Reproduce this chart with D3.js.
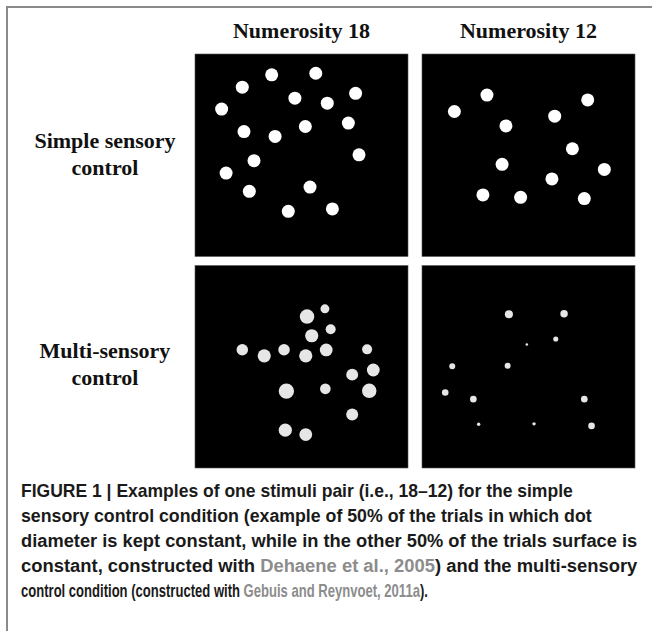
<!DOCTYPE html>
<html>
<head>
<meta charset="utf-8">
<script src="https://cdn.jsdelivr.net/npm/d3@7"></script>
<style>
  body { margin: 0; background: #fff; }
  svg { display: block; }
</style>
</head>
<body>
<script>
'use strict';
(function () {
  // column headings and row labels
  let columns = ["Numerosity 18", "Numerosity 12"];
  let rows = ["simple", "multi"];
  let rowLabels = [["Simple sensory", "control"], ["Multi-sensory", "control"]];

  // dots: [x, y, diameter] in stimulus units (0-100 of the square)
  let simple18 = [
    [36.0, 10.3, 6.1], [56.7, 9.5, 6.1], [22.2, 16.4, 6.1], [75.4, 19.4, 6.1],
    [46.9, 21.8, 6.1], [62.1, 24.3, 6.1], [12.5, 27.2, 6.1], [72.0, 34.1, 6.1],
    [51.8, 35.8, 6.1], [23.0, 38.3, 6.1], [37.6, 40.7, 6.1], [77.0, 49.8, 6.1],
    [27.7, 52.7, 6.1], [14.6, 58.8, 6.1], [54.0, 65.7, 6.1], [25.5, 67.8, 6.1],
    [43.8, 77.7, 6.1], [64.5, 76.5, 6.1]
  ];
  let simple12 = [
    [15.2, 28.4, 6.1], [30.5, 20.3, 6.1], [39.4, 35.5, 6.1], [62.3, 30.7, 6.1],
    [77.8, 22.7, 6.1], [70.6, 46.8, 6.1], [37.6, 54.5, 6.1], [85.6, 57.0, 6.1],
    [61.0, 61.7, 6.1], [28.6, 69.6, 6.1], [46.3, 70.8, 6.1], [76.2, 71.4, 6.1]
  ];
  let multi18 = [
    [61.0, 21.4, 4.2], [52.6, 25.2, 6.8], [63.7, 31.5, 4.7], [54.8, 34.7, 6.2],
    [22.2, 41.6, 5.4], [32.5, 44.6, 6.2], [41.8, 41.6, 5.4], [52.0, 44.6, 6.2],
    [61.6, 41.7, 6.0], [80.8, 41.4, 4.7], [83.7, 51.6, 6.0], [73.8, 53.9, 5.6],
    [42.9, 62.0, 7.2], [61.2, 60.9, 5.0], [81.8, 61.9, 6.8], [73.8, 73.6, 5.6],
    [42.4, 81.3, 6.2], [52.0, 83.5, 6.0]
  ];
  let multi12 = [
    [40.8, 24.1, 3.8], [66.7, 23.8, 3.5], [62.8, 36.3, 2.4], [49.2, 39.0, 1.2],
    [14.2, 49.7, 2.8], [40.2, 49.5, 2.8], [10.9, 62.7, 3.1], [24.1, 66.0, 3.1],
    [76.2, 66.0, 3.1], [26.6, 78.4, 1.6], [52.6, 78.2, 1.6], [79.6, 79.2, 3.1]
  ];

  // caption, split into lines; second item marks a citation link
  let captionLines = [
    [["FIGURE 1 | Examples of one stimuli pair (i.e., 18\u201312) for the simple", false]],
    [["sensory control condition (example of 50% of the trials in which dot", false]],
    [["diameter is kept constant, while in the other 50% of the trials surface is", false]],
    [["constant, constructed with ", false], ["Dehaene et al., 2005", true], [") and the multi-sensory", false]],
    [["control condition (constructed with ", false], ["Gebuis and Reynvoet, 2011a", true], [").", false]]
  ];

  let panels = [
    { row: "simple", col: "Numerosity 18", dots: simple18, fill: "#ffffff" },
    { row: "simple", col: "Numerosity 12", dots: simple12, fill: "#ffffff" },
    { row: "multi", col: "Numerosity 18", dots: multi18, fill: "#e6e6e6" },
    { row: "multi", col: "Numerosity 12", dots: multi12, fill: "#e6e6e6" }
  ];

  let width = 652;
  let height = 631;

  let svg = d3.select('body')
    .append('svg')
    .attr('width', width)
    .attr('height', height);

  // frame
  svg.append('path')
    .attr('d', 'M7,' + height + 'V7H' + width)
    .attr('fill', 'none')
    .attr('stroke', '#8a8a8a')
    .attr('stroke-width', 2);

  let xBand = d3.scaleBand()
    .domain(columns)
    .range([195, 635])
    .paddingInner(0.0617);
  let yBand = d3.scaleBand()
    .domain(rows)
    .range([54, 468])
    .paddingInner(0.0426);

  // column headings
  svg.selectAll('.colhead')
    .data(columns)
    .enter()
    .append('text')
    .attr('class', 'colhead')
    .attr('x', (d) => xBand(d) + xBand.bandwidth() / 2)
    .attr('y', 38)
    .attr('text-anchor', 'middle')
    .style('font-family', '"Liberation Serif", "Times New Roman", serif')
    .style('font-weight', 'bold')
    .style('font-size', '22px')
    .attr('fill', '#111')
    .text((d) => d);

  // row labels
  rows.forEach((r, i) => {
    let cy = yBand(r) + yBand.bandwidth() / 2;
    let t = svg.append('text')
      .attr('text-anchor', 'middle')
      .style('font-family', '"Liberation Serif", "Times New Roman", serif')
      .style('font-weight', 'bold')
      .style('font-size', '22px')
      .attr('fill', '#111');
    rowLabels[i].forEach((line, j) => {
      t.append('tspan')
        .attr('x', 105)
        .attr('y', cy - 7 - i * 2 + j * 27)
        .text(line);
    });
  });

  // panels with dots
  panels.forEach((p) => {
    let x0 = xBand(p.col);
    let y0 = yBand(p.row);
    let w = xBand.bandwidth();
    let h = yBand.bandwidth();
    let xScale = d3.scaleLinear().domain([0, 100]).range([x0, x0 + w]);
    let yScale = d3.scaleLinear().domain([0, 100]).range([y0, y0 + h]);
    let sizeScale = d3.scaleLinear().domain([0, 100]).range([0, w]);

    svg.append('rect')
      .attr('x', x0)
      .attr('y', y0)
      .attr('width', w)
      .attr('height', h)
      .attr('fill', '#000')
      .attr('stroke', '#555')
      .attr('stroke-width', 0.6);

    svg.append('g')
      .selectAll('circle')
      .data(p.dots)
      .enter()
      .append('circle')
      .attr('cx', (d) => xScale(d[0]))
      .attr('cy', (d) => yScale(d[1]))
      .attr('r', (d) => sizeScale(d[2]) / 2)
      .attr('fill', p.fill);
  });

  // caption, each line squeezed to the width it has in the figure
  let capX = 21;
  let capY = 497;
  let capStep = 25;
  let capWidths = [552, 571, 617, 617, 407];
  let capGroup = svg.append('g');
  captionLines.forEach((parts, i) => {
    let y = capY + i * capStep;
    let t = capGroup.append('text')
      .attr('transform', 'translate(' + capX + ',' + y + ')')
      .style('font-family', '"Liberation Sans", Arial, sans-serif')
      .style('font-weight', 'bold')
      .style('font-size', '19px')
      .attr('fill', '#1a1a1a');
    parts.forEach((part) => {
      t.append('tspan')
        .attr('fill', part[1] ? '#8c8c8c' : '#1a1a1a')
        .text(part[0]);
    });
    let len = t.node().getComputedTextLength();
    t.attr('transform', 'translate(' + capX + ',' + y + ') scale(' + (capWidths[i] / len) + ',1)');
  });
})();
</script>
</body>
</html>
